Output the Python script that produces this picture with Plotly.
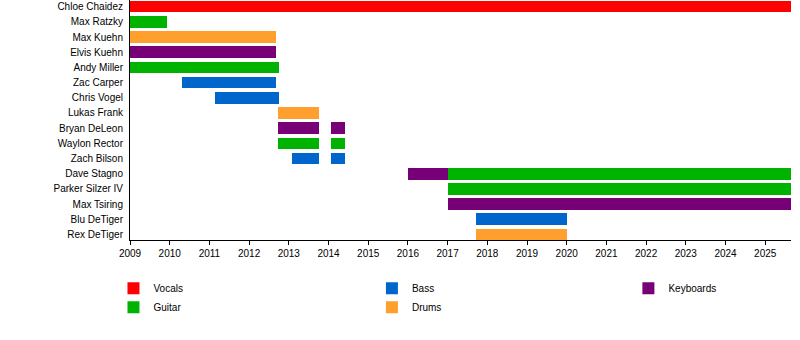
import plotly.graph_objects as go

# Band members, top to bottom
members = [
    "Chloe Chaidez", "Max Ratzky", "Max Kuehn", "Elvis Kuehn", "Andy Miller",
    "Zac Carper", "Chris Vogel", "Lukas Frank", "Bryan DeLeon", "Waylon Rector",
    "Zach Bilson", "Dave Stagno", "Parker Silzer IV", "Max Tsiring",
    "Blu DeTiger", "Rex DeTiger",
]

END = 2025.65  # present

# Tenures per role: member, start year, end year
vocals_member = ["Chloe Chaidez"]
vocals_start = [2009.0]
vocals_end = [END]

guitar_member = ["Max Ratzky", "Andy Miller", "Waylon Rector", "Waylon Rector",
                 "Dave Stagno", "Parker Silzer IV"]
guitar_start = [2009.0, 2009.0, 2012.74, 2014.06, 2017.0, 2017.0]
guitar_end = [2009.92, 2012.75, 2013.76, 2014.41, END, END]

bass_member = ["Zac Carper", "Chris Vogel", "Zach Bilson", "Zach Bilson", "Blu DeTiger"]
bass_start = [2010.31, 2011.14, 2013.08, 2014.06, 2017.72]
bass_end = [2012.68, 2012.75, 2013.76, 2014.41, 2020.0]

drums_member = ["Max Kuehn", "Lukas Frank", "Rex DeTiger"]
drums_start = [2009.0, 2012.74, 2017.72]
drums_end = [2012.68, 2013.76, 2020.0]

keys_member = ["Elvis Kuehn", "Bryan DeLeon", "Bryan DeLeon", "Dave Stagno", "Max Tsiring"]
keys_start = [2009.0, 2012.74, 2014.06, 2016.0, 2017.0]
keys_end = [2012.68, 2013.76, 2014.41, 2017.0, END]

year_ticks = list(range(2009, 2026))

roles = [
    ("Vocals", vocals_member, vocals_start, vocals_end, "#FF0000", "legend"),
    ("Guitar", guitar_member, guitar_start, guitar_end, "#00B300", "legend"),
    ("Bass", bass_member, bass_start, bass_end, "#0066CC", "legend2"),
    ("Drums", drums_member, drums_start, drums_end, "#FFA02E", "legend2"),
    ("Keyboards", keys_member, keys_start, keys_end, "#770077", "legend3"),
]

row_of = {m: i for i, m in enumerate(members)}

fig = go.Figure()
for name, who, start, end, color, leg in roles:
    fig.add_trace(go.Bar(
        orientation="h",
        y=[row_of[m] for m in who],
        base=start,
        x=[e - s for s, e in zip(start, end)],
        width=0.77,
        marker=dict(color=color, line=dict(width=0)),
        name=name,
        legend=leg,
        hoverinfo="skip",
    ))

font = dict(family="Liberation Sans, Arial, sans-serif", size=10, color="#000000")
leg_common = dict(
    orientation="v", xanchor="left", yanchor="top", y=-0.141,
    bgcolor="rgba(0,0,0,0)", font=font, itemwidth=30,
    traceorder="normal", tracegroupgap=0,
)

fig.update_layout(
    width=800, height=340,
    margin=dict(l=130, r=9, t=0, b=100),
    paper_bgcolor="white", plot_bgcolor="white",
    font=font,
    barmode="overlay",
    bargap=0,
    xaxis=dict(
        range=[2009, END], tickmode="array", tickvals=year_ticks,
        ticktext=[str(y) for y in year_ticks],
        showgrid=False, zeroline=False, showline=True, linecolor="black",
        linewidth=1, ticks="outside", ticklen=4, tickcolor="black",
        tickfont=font,
    ),
    yaxis=dict(
        range=[15.36, -0.435], tickmode="array",
        tickvals=list(range(len(members))), ticktext=members,
        showgrid=False, zeroline=False, showline=True, linecolor="black",
        linewidth=1, ticks="", ticklen=0, tickfont=font,
        ticklabelstandoff=4,
    ),
    legend=dict(x=-0.025, **leg_common),
    legend2=dict(x=0.366, **leg_common),
    legend3=dict(x=0.754, **leg_common),
)

fig.write_html("out.html")
